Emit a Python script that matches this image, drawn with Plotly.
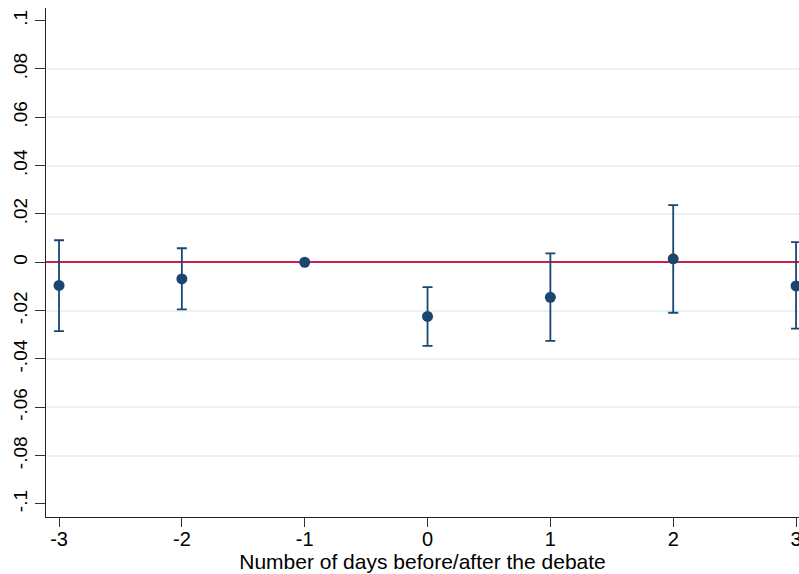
import plotly.graph_objects as go

days = [-3, -2, -1, 0, 1, 2, 3]
estimates = [-0.0096, -0.0069, 0.0, -0.0224, -0.0145, 0.0014, -0.0098]
ci_upper = [0.0091, 0.0058, 0.0, -0.0103, 0.0037, 0.0236, 0.0083]
ci_lower = [-0.0285, -0.0195, 0.0, -0.0346, -0.0325, -0.0209, -0.0275]

y_tickvals = [0.1, 0.08, 0.06, 0.04, 0.02, 0, -0.02, -0.04, -0.06, -0.08, -0.1]
y_ticktext = [".1", ".08", ".06", ".04", ".02", "0", "-.02", "-.04", "-.06", "-.08", "-.1"]
y_gridvals = [0.08, 0.06, 0.04, 0.02, -0.02, -0.04, -0.06, -0.08]

navy = "#1a476f"
err_plus = [u - e for u, e in zip(ci_upper, estimates)]
err_minus = [e - l for e, l in zip(estimates, ci_lower)]

fig = go.Figure()
fig.add_trace(go.Scatter(
    x=days, y=estimates, mode="markers",
    marker=dict(color=navy, size=11),
    error_y=dict(type="data", symmetric=False, array=err_plus, arrayminus=err_minus,
                 color=navy, thickness=1.8, width=5),
    cliponaxis=False,
    showlegend=False,
))

font = "Liberation Sans, Arial, sans-serif"
fig.update_layout(
    width=799, height=574,
    margin=dict(l=46, r=0, t=8, b=57),
    paper_bgcolor="white", plot_bgcolor="white",
    font=dict(family=font, color="black", size=18),
    xaxis=dict(
        range=[-3.106, 3.024],
        tickvals=days, ticktext=[str(d) for d in days],
        ticks="outside", ticklen=9, tickwidth=1, tickcolor="#333",
        showline=True, linecolor="#222", linewidth=1.2,
        showgrid=False, zeroline=False, automargin=False,
        ticklabeloverflow="allow", ticklabelstandoff=-5,
        tickfont=dict(size=20),
        title=dict(text="Number of days before/after the debate", font=dict(size=21), standoff=2),
    ),
    yaxis=dict(
        range=[-0.1054, 0.1052],
        tickvals=y_tickvals, ticktext=y_ticktext, tickangle=-90,
        ticks="outside", ticklen=10, tickwidth=1, tickcolor="#333",
        showline=True, linecolor="#222", linewidth=1.2,
        showgrid=False, automargin=False,
        zeroline=True, zerolinecolor="#d01c48", zerolinewidth=2,
        tickfont=dict(size=19),
        minor=dict(tickvals=y_gridvals, showgrid=True, gridcolor="#eaf2f3", gridwidth=1.5, ticklen=0),
    ),
)

fig.write_html(
    "out.html",
    config={"displayModeBar": False},
    post_script="document.body.style.margin='0';document.body.style.overflow='hidden';",
)
